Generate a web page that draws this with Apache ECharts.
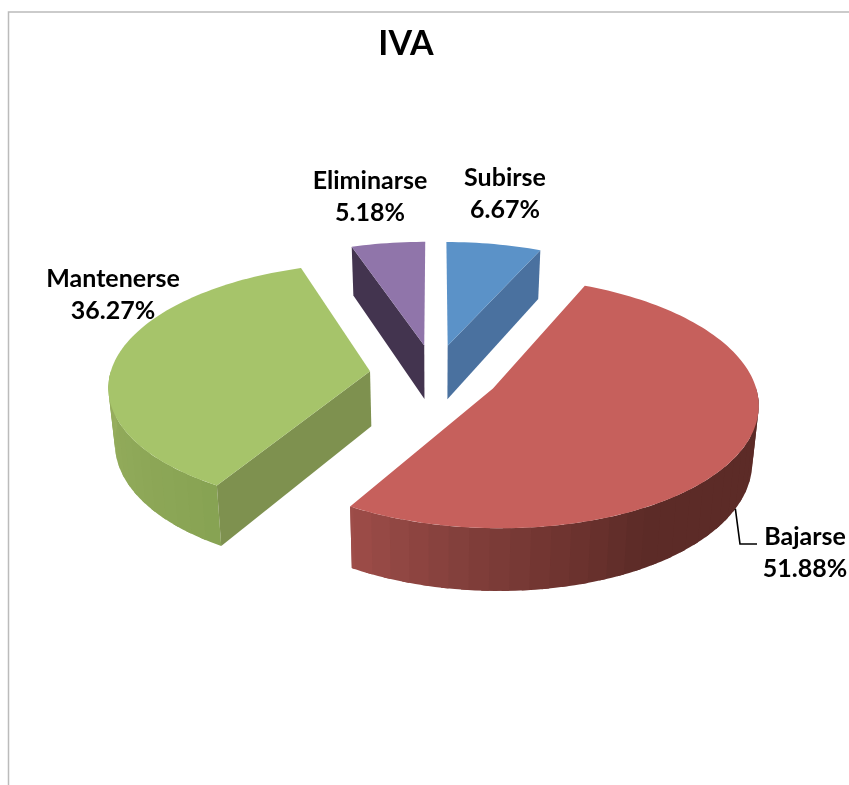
<!DOCTYPE html>
<html>
<head>
<meta charset="utf-8">
<style>html,body{margin:0;padding:0;background:#fff}#c{width:849px;height:785px}</style>
<script src="https://cdn.jsdelivr.net/npm/echarts@6/dist/echarts.min.js"></script>
</head>
<body>
<div id="c"></div>
<script>
const categories = ['Subirse', 'Bajarse', 'Mantenerse', 'Eliminarse'];
const values = [6.67, 51.88, 36.27, 5.18];
const chartTitle = 'IVA';

const topColors = ['#5B92C8', '#C6605C', '#A6C46A', '#9075AA'];
const faceColors = ['#4A719F', '#5C2B27', '#7E914F', '#43344F'];
// outer-wall shade, from the right-hand end of each slice towards the front-left edge
const wallStops = [
  [[0, '#4A719F']],
  [[90, '#5C2B27'], [150, '#5C2B27'], [165, '#6C322E'], [185, '#803E3A'], [211, '#9E4D49']],
  [[211, '#87A353'], [270, '#97AE5E']],
  [[0, '#43344F']]
];
// label centres and leader
const labelAt = [[505, 194], [805, 553], [113, 295], [370, 197]];
const leaderTheta = 118;

const view = { cx: 434.5, cy: 374.5, rx: 260, ry: 121, k: 0.11, explode: 0.25, depth: 55, taper: 0.02 };
const rad = d => d * Math.PI / 180;
const total = values.reduce((a, b) => a + b, 0);

function project(wx, wy, low) {
  const s = 1 / (1 - view.k * wy);
  let x = view.rx * wx * s;
  let y = view.ry * wy * s;
  if (low) { x *= 1 - view.taper; y += view.depth * s; }
  return [view.cx + x, view.cy + y];
}
function hex(c) { return [1, 3, 5].map(i => parseInt(c.substr(i, 2), 16)); }
function shade(stops, t) {
  if (t <= stops[0][0]) return stops[0][1];
  for (let i = 1; i < stops.length; i++) {
    if (t <= stops[i][0]) {
      const f = (t - stops[i - 1][0]) / (stops[i][0] - stops[i - 1][0]);
      const a = hex(stops[i - 1][1]), b = hex(stops[i][1]);
      return 'rgb(' + a.map((v, j) => Math.round(v + (b[j] - v) * f)).join(',') + ')';
    }
  }
  return stops[stops.length - 1][1];
}

function renderItem(params, api) {
  const i = params.dataIndex;
  let before = 0;
  for (let j = 0; j < i; j++) before += values[j];
  const a = before / total * 360;
  const b = (before + api.value(0)) / total * 360;
  const mid = rad((a + b) / 2);
  const ox = view.explode * Math.sin(mid);
  const oy = -view.explode * Math.cos(mid);
  const on = (deg, low) => project(ox + Math.sin(rad(deg)), oy - Math.cos(rad(deg)), low);
  const apex = low => project(ox, oy, low);
  const kids = [];
  const poly = (pts, fill) => kids.push({
    type: 'polygon', silent: true, shape: { points: pts }, style: { fill: fill }
  });

  // curved outer wall, in bands that overlap so no seam shows
  const from = Math.max(a, 90), to = Math.min(b, 270), step = 4;
  for (let t = from; t < to; t += step) {
    const e = Math.min(t + step + 1.5, to);
    poly([on(t), on(t + (e - t) / 2), on(e), on(e, true), on(t + (e - t) / 2, true), on(t, true)],
      shade(wallStops[i], t + step / 2));
  }
  // flat cut faces, when they look towards the viewer
  if (Math.sin(rad(a)) < -1e-6) poly([apex(), on(a), on(a, true), apex(true)], faceColors[i]);
  if (Math.sin(rad(b)) > 1e-6) poly([apex(), on(b), on(b, true), apex(true)], faceColors[i]);

  // top surface
  const top = [apex()];
  for (let t = a; t < b; t += 1.5) top.push(on(t));
  top.push(on(b));
  poly(top, topColors[i]);

  // leader line
  if (i === 1) {
    const p = on(leaderTheta, true);
    const l = labelAt[i];
    kids.push({
      type: 'polyline', silent: true,
      shape: { points: [p, [l[0] - 65, l[1] - 9], [l[0] - 48, l[1] - 9]] },
      style: { stroke: '#000', lineWidth: 1.6, fill: null }
    });
  }
  // label
  kids.push({
    type: 'text', silent: true,
    x: labelAt[i][0], y: labelAt[i][1],
    style: {
      text: categories[i] + '\n' + api.value(0).toFixed(2) + '%',
      fill: '#000', align: 'center', verticalAlign: 'middle',
      font: 'bold 25px Lato', lineHeight: 32
    }
  });
  return { type: 'group', children: kids };
}

const chart = echarts.init(document.getElementById('c'), null, { renderer: 'canvas' });
chart.setOption({
  animation: false,
  backgroundColor: '#fff',
  title: {
    text: chartTitle, left: 401, top: 22, textAlign: 'center',
    textStyle: { fontFamily: 'Lato', fontWeight: 'bold', fontSize: 34, color: '#000' }
  },
  graphic: [{
    type: 'rect', silent: true, z: -1,
    shape: { x: 8.5, y: 12, width: 900, height: 850 },
    style: { fill: 'none', stroke: '#BBBBBB', lineWidth: 1.5 }
  }],
  series: [{
    type: 'custom', coordinateSystem: 'none', renderItem: renderItem,
    data: values.map(v => [v]), silent: true, clip: false
  }]
});
</script>
</body>
</html>
